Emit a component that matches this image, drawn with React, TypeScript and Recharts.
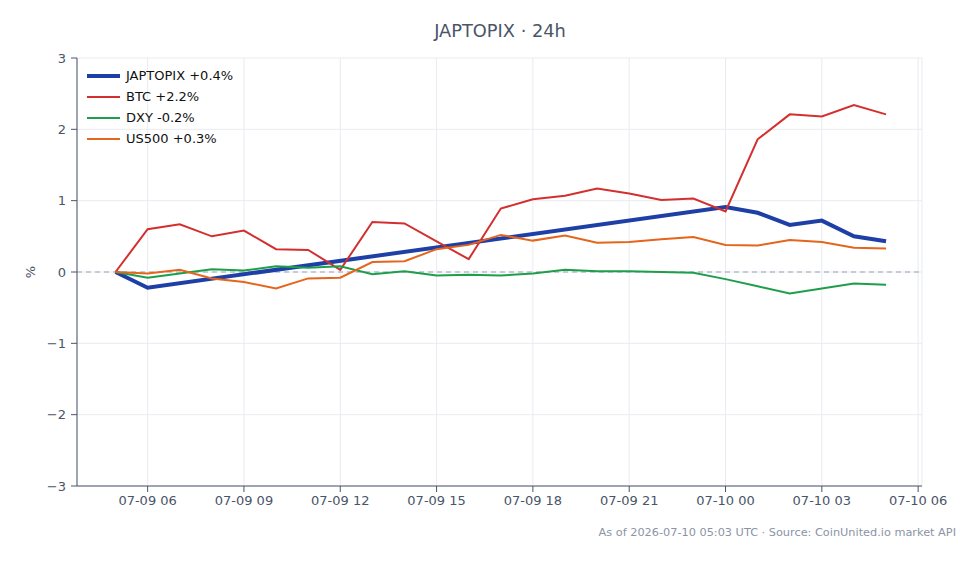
import React from 'react';
import { LineChart, Line, XAxis, YAxis, CartesianGrid, ReferenceLine } from 'recharts';

// hours since 07-09 00:00 UTC
const hours = [5, 6, 7, 8, 9, 10, 11, 12, 13, 14, 15, 16, 17, 18, 19, 20, 21, 22, 23, 24, 25, 26, 27, 28, 29];
const japtopix = [0, -0.22, null, null, null, null, null, null, null, null, null, null, null, null, null, null, null, null, null, 0.91, 0.83, 0.66, 0.72, 0.5, 0.43];
const btc = [0, 0.6, 0.67, 0.5, 0.58, 0.32, 0.31, 0.03, 0.7, 0.68, 0.43, 0.18, 0.89, 1.02, 1.07, 1.17, 1.1, 1.01, 1.03, 0.85, 1.86, 2.21, 2.18, 2.34, 2.21];
const dxy = [0, -0.08, -0.02, 0.04, 0.02, 0.08, 0.06, 0.08, -0.03, 0.01, -0.05, -0.04, -0.05, -0.02, 0.03, 0.01, 0.01, 0, -0.01, -0.1, -0.2, -0.3, -0.23, -0.16, -0.18];
const us500 = [0, -0.02, 0.03, -0.09, -0.14, -0.23, -0.09, -0.08, 0.14, 0.15, 0.32, 0.38, 0.52, 0.44, 0.51, 0.41, 0.42, 0.46, 0.49, 0.38, 0.37, 0.45, 0.42, 0.34, 0.33];

const xTicks = [6, 9, 12, 15, 18, 21, 24, 27, 30];
const yTicks = [-3, -2, -1, 0, 1, 2, 3];

const series = [
  { key: 'japtopix', name: 'JAPTOPIX +0.4%', color: '#1e3fa6', width: 4 },
  { key: 'btc', name: 'BTC +2.2%', color: '#d32f2f', width: 2 },
  { key: 'dxy', name: 'DXY -0.2%', color: '#1e9e4a', width: 2 },
  { key: 'us500', name: 'US500 +0.3%', color: '#e4651b', width: 2 },
];

const data = hours.map((h, i) => ({ t: h, japtopix: japtopix[i], btc: btc[i], dxy: dxy[i], us500: us500[i] }));

const FONT = '"DejaVu Sans", sans-serif';
const INK = '#4a5568';

const fmtX = (h: number) => {
  const day = 9 + Math.floor(h / 24);
  const hr = h % 24;
  return `07-${String(day).padStart(2, '0')} ${String(hr).padStart(2, '0')}`;
};
const fmtY = (v: number) => (v < 0 ? `\u2212${Math.abs(v)}` : `${v}`);

export default function App() {
  return (
    <div style={{ position: 'absolute', left: 0, top: 0, width: 980, height: 564, background: '#fff', fontFamily: FONT }}>
      <div style={{ position: 'absolute', top: 20, left: 0, width: 1000, textAlign: 'center', fontSize: 17.8, color: INK }}>
        JAPTOPIX · 24h
      </div>
      <LineChart width={980} height={564} data={data} margin={{ top: 58, right: 58, bottom: 48, left: 0 }}>
        <CartesianGrid stroke="#e8ebf0" strokeWidth={1} />
        <XAxis
          dataKey="t"
          type="number"
          domain={[3.8, 30.12]}
          ticks={xTicks}
          tickFormatter={fmtX}
          height={30}
          stroke={INK}
          tick={{ fill: INK, fontSize: 13, fontFamily: FONT }}
          tickSize={6}
          tickMargin={4}
          allowDataOverflow
        />
        <YAxis
          type="number"
          domain={[-3, 3]}
          ticks={yTicks}
          tickFormatter={fmtY}
          width={77}
          stroke={INK}
          tick={{ fill: INK, fontSize: 13, fontFamily: FONT }}
          tickSize={6}
          tickMargin={5}
          label={({ viewBox }: any) => (
            <text
              x={30}
              y={viewBox.y + viewBox.height / 2}
              transform={`rotate(-90 30 ${viewBox.y + viewBox.height / 2})`}
              textAnchor="middle"
              dominantBaseline="central"
              fill={INK}
              fontSize={13}
              fontFamily={FONT}
            >
              %
            </text>
          )}
        />
        <ReferenceLine y={0} stroke="#94a3b8" strokeDasharray="5 4" strokeWidth={1} />
        {series.map((s) => (
          <Line
            key={s.key}
            type="linear"
            dataKey={s.key}
            name={s.name}
            stroke={s.color}
            strokeWidth={s.width}
            dot={false}
            connectNulls
            isAnimationActive={false}
          />
        ))}
      </LineChart>
      <div style={{ position: 'absolute', left: 87, top: 65, fontSize: 13, color: '#111' }}>
        {series.map((s) => (
          <div key={s.key} style={{ display: 'flex', alignItems: 'center', height: 21 }}>
            <div style={{ width: 33, height: s.width, background: s.color, marginRight: 6 }} />
            <span>{s.name}</span>
          </div>
        ))}
      </div>
      <div style={{ position: 'absolute', top: 526, right: 24, fontSize: 11.3, color: '#8a94a6' }}>
        As of 2026-07-10 05:03 UTC · Source: CoinUnited.io market API
      </div>
    </div>
  );
}
